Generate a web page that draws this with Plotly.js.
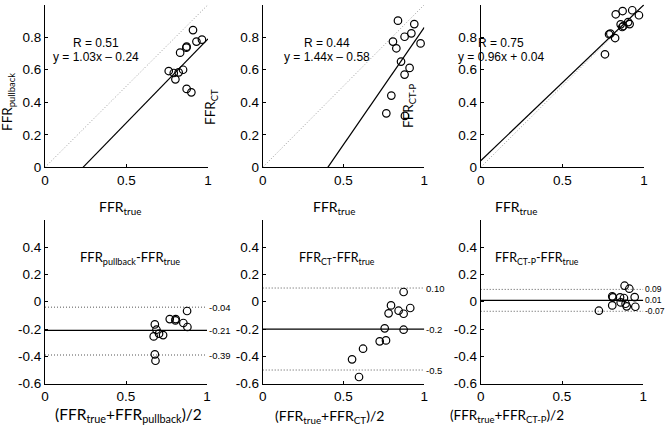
<!DOCTYPE html>
<html><head><meta charset="utf-8">
<script src="https://cdn.plot.ly/plotly-3.0.1.min.js"></script>
<style>html,body{margin:0;padding:0;background:#fff}#chart{width:666px;height:426px}</style>
</head><body><div id="chart"></div>
<script>
// ---- data ----
// top row: scatter vs FFR_true
const pbTrue = [0.759,0.790,0.800,0.820,0.847,0.829,0.867,0.869,0.908,0.929,0.963,0.869,0.898];
const pbVal  = [0.592,0.580,0.541,0.584,0.600,0.705,0.736,0.742,0.844,0.773,0.785,0.482,0.461];
const ctTrue = [0.837,0.938,0.878,0.920,0.806,0.827,0.977,0.856,0.909,0.878,0.796,0.765,0.880];
const ctVal  = [0.902,0.881,0.803,0.824,0.773,0.732,0.762,0.650,0.611,0.570,0.441,0.332,0.316];
const ctpTrue = [0.827,0.869,0.928,0.969,0.857,0.873,0.903,0.912,0.867,0.794,0.786,0.823,0.761];
const ctpVal  = [0.941,0.961,0.966,0.935,0.879,0.869,0.893,0.881,0.863,0.822,0.818,0.795,0.695];
const regSlope = [1.03,1.44,0.96];
const regIntercept = [-0.24,-0.58,0.04];
const regR = ["0.51","0.44","0.75"];
// bottom row: Bland-Altman
const baPbMean = [0.678,0.688,0.671,0.704,0.729,0.770,0.805,0.807,0.854,0.879,0.877,0.678,0.682];
const baPbDiff = [-0.166,-0.205,-0.254,-0.234,-0.244,-0.127,-0.137,-0.127,-0.156,-0.185,-0.068,-0.385,-0.432];
const baCtMean = [0.872,0.913,0.794,0.779,0.841,0.872,0.755,0.872,0.724,0.763,0.621,0.553,0.596];
const baCtDiff = [0.071,-0.046,-0.027,-0.085,-0.066,-0.088,-0.195,-0.205,-0.290,-0.283,-0.344,-0.422,-0.551];
const baCtpMean = [0.885,0.914,0.947,0.951,0.809,0.809,0.857,0.881,0.861,0.891,0.898,0.813,0.727];
const baCtpDiff = [0.117,0.095,0.034,-0.037,0.039,-0.027,0.032,0.027,-0.005,-0.015,-0.034,0.032,-0.066];
const baBias  = [-0.21,-0.2,0.01];
const baUpper = [-0.04,0.10,0.09];
const baLower = [-0.39,-0.5,-0.07];
const baBiasLbl  = ["-0.21","-0.2","0.01"];
const baUpperLbl = ["-0.04","0.10","0.09"];
const baLowerLbl = ["-0.39","-0.5","-0.07"];
const topXTicks = [0,0.5,1], topXLbl = ["0","0.5","1"];
const topYTicks = [0,0.2,0.4,0.6,0.8,1], topYLbl = ["0","0.2","0.4","0.6","0.8","1"];
const botYTicks = [-0.6,-0.4,-0.2,0,0.2,0.4], botYLbl = ["-0.6","-0.4","-0.2","0","0.2","0.4"];

const W=666,H=426;
const px = v=>v/W, py = v=>1-v/H;
const TF = "Liberation Sans, Arial, sans-serif";
const LF = "Lato, Liberation Sans, sans-serif";
const colX = [[45,208],[262.7,424.3],[480.7,644]];
const colXb = [[45,207],[262.7,424.3],[480.7,643.3]];
const topY=[167.3,4.7], botY=[383.7,219.7];

const layout = {width:W,height:H,margin:{l:0,r:0,t:0,b:0},paper_bgcolor:"#fff",plot_bgcolor:"#fff",
  showlegend:false,annotations:[],font:{family:TF,size:12,color:"#000"}};
function axX(dom,anchor){return {domain:dom,anchor:anchor,range:[0,1],tickvals:topXTicks,ticktext:topXLbl,
  showgrid:false,zeroline:false,showline:true,linecolor:"#000",linewidth:1,ticks:"inside",ticklen:3,tickcolor:"#000",
  tickfont:{family:TF,size:13.5,color:"#000"},fixedrange:true};}
function axY(dom,anchor,range,tv,tt){return {domain:dom,anchor:anchor,range:range,tickvals:tv,ticktext:tt,
  showgrid:false,zeroline:false,showline:true,linecolor:"#000",linewidth:1,ticks:"inside",ticklen:3,tickcolor:"#000",
  tickfont:{family:TF,size:13.5,color:"#000"},fixedrange:true};}
const traces=[];
const topSets=[[pbTrue,pbVal],[ctTrue,ctVal],[ctpTrue,ctpVal]];
const botSets=[[baPbMean,baPbDiff],[baCtMean,baCtDiff],[baCtpMean,baCtpDiff]];
for(let i=0;i<3;i++){
  const n=i+1, m=i+4;
  const xa = n===1?"x":"x"+n, ya = n===1?"y":"y"+n;
  layout[n===1?"xaxis":"xaxis"+n]=axX([px(colX[i][0]),px(colX[i][1])],ya);
  layout[n===1?"yaxis":"yaxis"+n]=axY([py(topY[0]),py(topY[1])],xa,[0,1],topYTicks,topYLbl);
  // identity line
  traces.push({x:[0,1],y:[0,1],xaxis:xa,yaxis:ya,mode:"lines",line:{color:"#9a9a9a",width:1,dash:"1px,2px"},hoverinfo:"skip"});
  // regression line
  const x0 = Math.max(0,-regIntercept[i]/regSlope[i]);
  traces.push({x:[x0,1],y:[regSlope[i]*x0+regIntercept[i],regSlope[i]+regIntercept[i]],xaxis:xa,yaxis:ya,mode:"lines",
    line:{color:"#000",width:1.2},hoverinfo:"skip"});
  traces.push({x:topSets[i][0],y:topSets[i][1],xaxis:xa,yaxis:ya,mode:"markers",
    marker:{symbol:"circle-open",size:7.5,color:"#000",line:{width:1.2,color:"#000"}},cliponaxis:false});
  // bottom
  const xb="x"+m, yb="y"+m;
  layout["xaxis"+m]=axX([px(colXb[i][0]),px(colXb[i][1])],yb);
  layout["yaxis"+m]=axY([py(botY[0]),py(botY[1])],xb,[-0.6,0.6],botYTicks,botYLbl);
  traces.push({x:[0,1],y:[baUpper[i],baUpper[i]],xaxis:xb,yaxis:yb,mode:"lines",line:{color:"#555",width:1,dash:"1px,2px"},hoverinfo:"skip"});
  traces.push({x:[0,1],y:[baLower[i],baLower[i]],xaxis:xb,yaxis:yb,mode:"lines",line:{color:"#555",width:1,dash:"1px,2px"},hoverinfo:"skip"});
  traces.push({x:[0,1],y:[baBias[i],baBias[i]],xaxis:xb,yaxis:yb,mode:"lines",line:{color:"#000",width:1.3},hoverinfo:"skip"});
  traces.push({x:botSets[i][0],y:botSets[i][1],xaxis:xb,yaxis:yb,mode:"markers",
    marker:{symbol:"circle-open",size:7.5,color:"#000",line:{width:1.2,color:"#000"}},cliponaxis:false});
  [[baUpper[i],baUpperLbl[i]],[baBias[i],baBiasLbl[i]],[baLower[i],baLowerLbl[i]]].forEach(([v,t])=>{
    layout.annotations.push({xref:xb,yref:yb,x:1,y:v,text:t,showarrow:false,xanchor:"left",yanchor:"middle",xshift:0,
      font:{family:TF,size:i===2?8.5:9.5,color:"#000"}});
  });
  // R and equation
  const annX=[0.31,0.40,0.122][i];
  const sign = regIntercept[i]<0?" \u2013 ":" + ";
  layout.annotations.push({xref:xa,yref:ya,x:annX,y:0.766,text:"R = "+regR[i],showarrow:false,
    font:{family:TF,size:12,color:"#000"}});
  layout.annotations.push({xref:xa,yref:ya,x:annX,y:0.68,text:"y = "+regSlope[i].toFixed(2)+"x"+sign+Math.abs(regIntercept[i]).toFixed(2),
    showarrow:false,font:{family:TF,size:12,color:"#000"}});
}
// titles (free-floating as in the reference)
const T=(x,y,t,rot,size)=>layout.annotations.push({xref:"paper",yref:"paper",x:px(x),y:py(y),text:t,showarrow:false,
  xanchor:"center",yanchor:"middle",textangle:rot||0,font:{family:LF,size:size||14,color:"#000"}});
T(120,207,"FFR<sub>true</sub>");
T(334,207,"FFR<sub>true</sub>");
T(516,207,"FFR<sub>true</sub>");
T(8,102,"FFR<sub>pullback</sub>",-90,13.5);
T(211,107,"FFR<sub>CT</sub>",-90,13.5);
T(409,106,"FFR<sub>CT-P</sub>",-90,13.5);
T(130,258,"FFR<sub>pullback</sub>-FFR<sub>true</sub>",0,13);
T(337,258,"FFR<sub>CT</sub>-FFR<sub>true</sub>",0,12.5);
T(537,258,"FFR<sub>CT-P</sub>-FFR<sub>true</sub>",0,12.5);
T(128,415,"(FFR<sub>true</sub>+FFR<sub>pullback</sub>)/2",0,15.5);
T(329,416,"(FFR<sub>true</sub>+FFR<sub>CT</sub>)/2",0,14);
T(507,416,"(FFR<sub>true</sub>+FFR<sub>CT-P</sub>)/2",0,13.5);
Plotly.newPlot("chart",traces,layout,{staticPlot:true,displayModeBar:false});
</script></body></html>
